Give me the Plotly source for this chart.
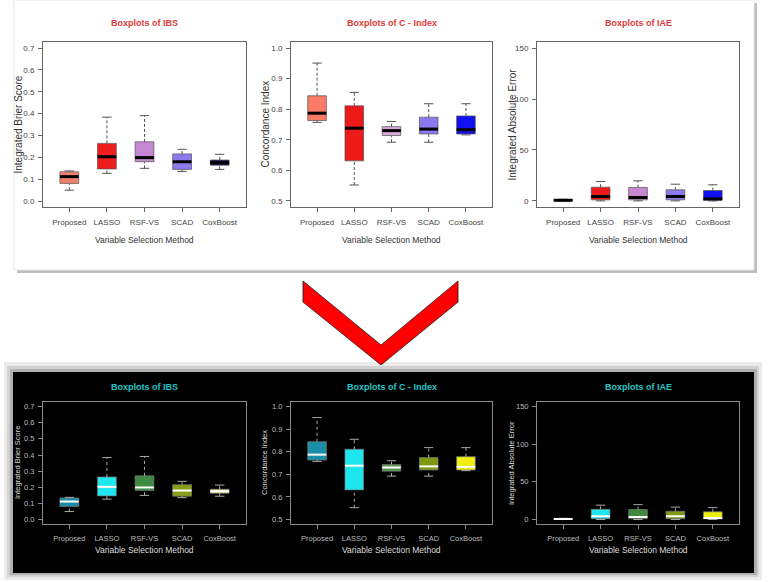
import plotly.graph_objects as go

# values
methods = ["Proposed", "LASSO", "RSF-VS", "SCAD", "CoxBoost"]

ibs_low = [0.050, 0.127, 0.150, 0.136, 0.145]
ibs_q1 = [0.081, 0.147, 0.180, 0.145, 0.164]
ibs_med = [0.112, 0.203, 0.199, 0.180, 0.176]
ibs_q3 = [0.134, 0.264, 0.271, 0.216, 0.188]
ibs_high = [0.138, 0.384, 0.391, 0.237, 0.214]

cidx_low = [0.757, 0.552, 0.692, 0.692, 0.716]
cidx_q1 = [0.763, 0.631, 0.714, 0.719, 0.719]
cidx_med = [0.787, 0.738, 0.730, 0.735, 0.733]
cidx_q3 = [0.844, 0.811, 0.743, 0.774, 0.778]
cidx_high = [0.951, 0.855, 0.760, 0.818, 0.818]

iae_low = [0.0, 0.0, 0.0, 0.0, 0.0]
iae_q1 = [0.2, 1.0, 1.0, 1.0, 0.7]
iae_med = [0.6, 4.3, 3.3, 4.3, 2.0]
iae_q3 = [1.2, 13.5, 13.2, 10.9, 10.2]
iae_high = [1.6, 19.0, 19.7, 16.4, 15.8]

W, H = 768, 582
FONT = "Liberation Sans, Arial"


def px(x):
    return x / W


def py(y):
    return 1 - y / H


metrics = [
    dict(title="Boxplots of IBS", ytitle="Integrated Brier Score",
         stats=(ibs_low, ibs_q1, ibs_med, ibs_q3, ibs_high),
         yrange=[-0.027, 0.728], ticks=[0, 0.1, 0.2, 0.3, 0.4, 0.5, 0.6, 0.7], fmt=".1f",
         xdom=(43, 246), ytx=18),
    dict(title="Boxplots of C - Index", ytitle="Concordance Index",
         stats=(cidx_low, cidx_q1, cidx_med, cidx_q3, cidx_high),
         yrange=[0.480, 1.020], ticks=[0.5, 0.6, 0.7, 0.8, 0.9, 1.0], fmt=".1f",
         xdom=(291, 492), ytx=265),
    dict(title="Boxplots of IAE", ytitle="Integrated Absolute Error",
         stats=(iae_low, iae_q1, iae_med, iae_q3, iae_high),
         yrange=[-6, 156], ticks=[0, 50, 100, 150], fmt="d",
         xdom=(537, 739), ytx=512),
]

top_colors = [
    ["#F4826E", "#EE1C1C", "#C586D2", "#8B7BEF", "#1C1666"],
    ["#FA7B66", "#EE1A1A", "#D6A8DA", "#8A78F0", "#1010F0"],
    ["#111111", "#EE1A1A", "#C586D2", "#8A7BF0", "#1010F0"],
]
bot_colors = [
    ["#1A8EA8", "#1EE6EE", "#3E8A3E", "#8A9E1A", "#EEEE90"],
    ["#1A8EA8", "#1EE6EE", "#5A9A50", "#7F9A10", "#EEEE10"],
    ["#D0D0D0", "#1EE6EE", "#3E8A3E", "#7F9A10", "#EEEE10"],
]

panels = [
    dict(ydom=(42, 207), colors=top_colors, title_y=23, xt_y=240,
         title_col="#E03A3A", txt="#333333", tick="#444444", frame="#666666",
         whisk="#555555", dash="3px,2px", med="#000000", medw=3, outline="#555555",
         tfs=8, yfs=10, xfs=8.5),
    dict(ydom=(402, 524), colors=bot_colors, title_y=387, xt_y=550,
         title_col="#22C4C8", txt="#DDDDDD", tick="#BBBBBB", frame="#8A8A8A",
         whisk="#AAAAAA", dash="dot", med="#FFFFFF", medw=2, outline="#777777",
         tfs=7.5, yfs=7.5, xfs=8.5),
]

fig = go.Figure()
layout = {}
annotations = []

for p, pan in enumerate(panels):
    for m, met in enumerate(metrics):
        k = p * 3 + m + 1
        xa = "x" if k == 1 else f"x{k}"
        ya = "y" if k == 1 else f"y{k}"
        low, q1, med, q3, high = met["stats"]
        cols = pan["colors"][m]

        wx, wy, cx, cy, mx, my = [], [], [], [], [], []
        for i in range(len(methods)):
            fig.add_trace(go.Box(
                x=[i], q1=[q1[i]], median=[med[i]], q3=[q3[i]],
                lowerfence=[q1[i]], upperfence=[q3[i]], width=0.5,
                fillcolor=cols[i], line=dict(color=pan["outline"], width=0.7),
                whiskerwidth=0, boxpoints=False, showlegend=False,
                hoverinfo="skip", xaxis=xa, yaxis=ya))
            wx += [i, i, None, i, i, None]
            wy += [low[i], q1[i], None, q3[i], high[i], None]
            cx += [i - 0.125, i + 0.125, None, i - 0.125, i + 0.125, None]
            cy += [low[i], low[i], None, high[i], high[i], None]
            mx += [i - 0.25, i + 0.25, None]
            my += [med[i], med[i], None]

        fig.add_trace(go.Scatter(x=wx, y=wy, mode="lines", xaxis=xa, yaxis=ya,
                                 line=dict(color=pan["whisk"], width=1, dash=pan["dash"]),
                                 showlegend=False, hoverinfo="skip"))
        fig.add_trace(go.Scatter(x=cx, y=cy, mode="lines", xaxis=xa, yaxis=ya,
                                 line=dict(color=pan["whisk"], width=1),
                                 showlegend=False, hoverinfo="skip"))
        fig.add_trace(go.Scatter(x=mx, y=my, mode="lines", xaxis=xa, yaxis=ya,
                                 line=dict(color=pan["med"], width=pan["medw"]),
                                 showlegend=False, hoverinfo="skip"))

        x0, x1 = met["xdom"]
        y0, y1 = pan["ydom"]
        layout["xaxis" if k == 1 else f"xaxis{k}"] = dict(
            domain=[px(x0), px(x1)], anchor=ya, range=[-0.7, 4.7],
            tickvals=list(range(len(methods))), ticktext=methods,
            ticks="outside", ticklen=4, tickcolor=pan["frame"], ticklabelstandoff=3,
            showline=True, mirror=True, linecolor=pan["frame"], linewidth=1,
            showgrid=False, zeroline=False,
            tickfont=dict(family=FONT, size=pan["tfs"], color=pan["tick"]))
        layout["yaxis" if k == 1 else f"yaxis{k}"] = dict(
            domain=[py(y1), py(y0)], anchor=xa, range=met["yrange"],
            tickvals=met["ticks"], tickformat=met["fmt"],
            ticks="outside", ticklen=4, tickcolor=pan["frame"], ticklabelstandoff=2,
            showline=True, mirror=True, linecolor=pan["frame"], linewidth=1,
            showgrid=False, zeroline=False,
            tickfont=dict(family=FONT, size=pan["tfs"], color=pan["tick"]))

        cxm = (x0 + x1) / 2
        common = dict(xref="paper", yref="paper", showarrow=False,
                      xanchor="center", yanchor="middle")
        annotations.append(dict(
            x=px(cxm), y=py(pan["title_y"]),
            text="<b>" + met["title"] + "</b>",
            font=dict(family=FONT, size=9, color=pan["title_col"]), **common))
        annotations.append(dict(
            x=px(cxm), y=py(pan["xt_y"]),
            text="Variable Selection Method",
            font=dict(family=FONT, size=pan["xfs"], color=pan["txt"]), **common))
        annotations.append(dict(
            x=px(met["ytx"]), y=py((y0 + y1) / 2),
            text=met["ytitle"], textangle=-90,
            font=dict(family=FONT, size=pan["yfs"], color=pan["txt"]),
            **common))


def rect(x0, y0, x1, y1, fill, line=None):
    return dict(type="rect", xref="paper", yref="paper", layer="below",
                x0=px(x0), x1=px(x1), y0=py(y1), y1=py(y0), fillcolor=fill,
                line=dict(width=0) if line is None else dict(color=line, width=1))


chev = [(303, 281), (381, 345), (458, 281), (458, 302), (381, 365), (303, 302)]
path = "M " + " L ".join(f"{px(a):.4f},{py(b):.4f}" for a, b in chev) + " Z"

shapes = [
    # top card
    rect(17, 3, 757, 273, "#BDBDBD"),
    rect(14, 0, 754, 270, "#FFFFFF", "#E6E6E6"),
    # bottom card
    rect(4, 362, 762, 580, "#EBEBEB"),
    rect(7, 366, 759, 577, "#D2D2D2"),
    rect(10, 369, 757, 575, "#B0B0B0"),
    rect(13, 372, 754, 573, "#000000"),
    dict(type="path", path=path, xref="paper", yref="paper",
         fillcolor="#FF0000", line=dict(color="#222222", width=0.8)),
]

fig.update_layout(
    width=W, height=H, margin=dict(l=0, r=0, t=0, b=0),
    paper_bgcolor="#FFFFFF", plot_bgcolor="rgba(0,0,0,0)",
    boxmode="overlay", showlegend=False,
    annotations=annotations, shapes=shapes, **layout)

fig.write_html("out.html", config={"displayModeBar": False},
               post_script="document.body.style.margin='0px';")
